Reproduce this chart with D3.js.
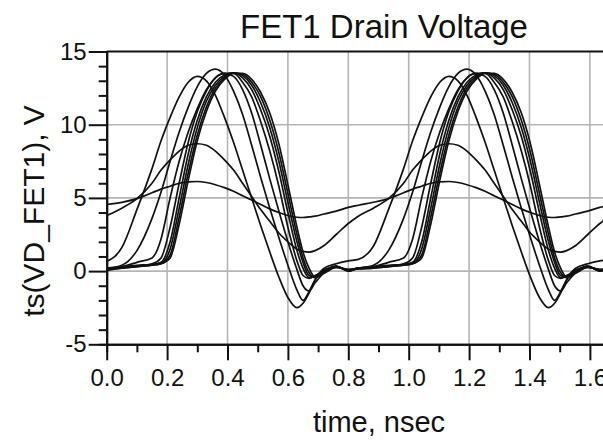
<!DOCTYPE html>
<html>
<head>
<meta charset="utf-8">
<script src="https://cdn.jsdelivr.net/npm/d3@7"></script>
<style>
  body { margin: 0; background: #fff; }
  svg { display: block; font-family: "Liberation Sans", Arial, sans-serif; }
</style>
</head>
<body>
<div class="svg-container"></div>
<script>
// time axis, nsec (two cycles, 1.2 GHz)
const time = [0, 0.05, 0.1, 0.15, 0.18, 0.21, 0.24, 0.27, 0.3, 0.33, 0.36, 0.39, 0.42, 0.45, 0.48, 0.51, 0.54, 0.57, 0.6, 0.63, 0.65, 0.67, 0.69, 0.72, 0.76, 0.8,
  0.833, 0.883, 0.933, 0.983, 1.013, 1.043, 1.073, 1.103, 1.133, 1.163, 1.193, 1.223, 1.253, 1.283, 1.313, 1.343, 1.373, 1.403, 1.433, 1.463, 1.483, 1.503, 1.523, 1.553, 1.593, 1.633,
  1.667, 1.717];

// drain voltage traces, V (one per swept drive level)
const vd1 = [4.55, 4.7, 4.95, 5.35, 5.6, 5.8, 6.0, 6.1, 6.12, 6.05, 5.9, 5.7, 5.45, 5.15, 4.85, 4.55, 4.25, 4.0, 3.8, 3.68, 3.66, 3.7, 3.75, 3.9, 4.1, 4.35,
  4.5, 4.7, 4.95, 5.35, 5.6, 5.8, 6.0, 6.1, 6.12, 6.05, 5.9, 5.7, 5.45, 5.15, 4.85, 4.55, 4.25, 4.0, 3.8, 3.68, 3.66, 3.7, 3.75, 3.9, 4.1, 4.35,
  4.5, 4.7];
const vd2 = [3.8, 4.3, 4.95, 6.0, 6.9, 7.6, 8.2, 8.6, 8.7, 8.6, 8.2, 7.6, 6.9, 6.0, 5.1, 4.2, 3.4, 2.6, 2.0, 1.5, 1.35, 1.3, 1.4, 1.75, 2.5, 3.25,
  3.75, 4.3, 4.95, 6.0, 6.9, 7.6, 8.2, 8.6, 8.7, 8.6, 8.2, 7.6, 6.9, 6.0, 5.1, 4.2, 3.4, 2.6, 2.0, 1.5, 1.35, 1.3, 1.4, 1.75, 2.5, 3.25,
  3.75, 4.3];
const vd3 = [0.65, 1.6, 4.2, 7.0, 8.9, 10.5, 11.9, 12.9, 13.3, 13.0, 12.0, 10.5, 8.8, 6.9, 5.0, 3.1, 1.3, -0.4, -1.8, -2.5, -2.2, -1.5, -0.6, 0.2, 0.5, 0.7,
  0.8, 1.7, 4.2, 7.0, 8.9, 10.5, 11.9, 12.9, 13.3, 13.0, 12.0, 10.5, 8.8, 6.9, 5.0, 3.1, 1.3, -0.4, -1.8, -2.5, -2.2, -1.5, -0.6, 0.2, 0.5, 0.7,
  0.8, 1.7];
const vd4 = [0.2, 0.4, 1.4, 3.6, 5.4, 7.5, 9.5, 11.2, 12.6, 13.5, 13.8, 13.4, 12.3, 10.7, 8.6, 6.4, 4.3, 2.3, 0.4, -1.3, -2.0, -1.4, -0.6, 0.1, 0.25, 0.1,
  0.2, 0.4, 1.4, 3.6, 5.4, 7.5, 9.5, 11.2, 12.6, 13.5, 13.8, 13.4, 12.3, 10.7, 8.6, 6.4, 4.3, 2.3, 0.4, -1.3, -2.0, -1.4, -0.6, 0.1, 0.25, 0.1,
  0.2, 0.4];
const vd5 = [0.15, 0.3, 0.6, 0.9, 2.2, 5.0, 7.5, 9.5, 11.1, 12.4, 13.2, 13.5, 13.3, 12.4, 10.8, 8.6, 6.3, 4.1, 2.0, 0.1, -1.0, -1.35, -0.8, -0.1, 0.3, 0.1,
  0.2, 0.3, 0.6, 0.9, 2.2, 5.0, 7.5, 9.5, 11.1, 12.4, 13.2, 13.5, 13.3, 12.4, 10.8, 8.6, 6.3, 4.1, 2.0, 0.1, -1.0, -1.35, -0.8, -0.1, 0.3, 0.1,
  0.2, 0.3];
const vd6 = [0.1, 0.25, 0.35, 0.5, 0.9, 3.0, 6.0, 8.8, 10.9, 12.3, 13.2, 13.5, 13.5, 12.9, 11.9, 10.2, 8.2, 5.8, 3.0, 0.7, -0.3, -0.5, -0.3, 0.05, 0.35, 0.0,
  0.2, 0.25, 0.35, 0.5, 0.9, 3.0, 6.0, 8.8, 10.9, 12.3, 13.2, 13.5, 13.5, 12.9, 11.9, 10.2, 8.2, 5.8, 3.0, 0.7, -0.3, -0.5, -0.3, 0.05, 0.35, 0.0,
  0.2, 0.25];
const vd7 = [0.1, 0.25, 0.35, 0.45, 0.6, 2.0, 5.0, 8.0, 10.3, 11.9, 12.9, 13.4, 13.55, 13.2, 12.4, 11.0, 9.2, 6.8, 4.0, 1.4, 0.2, -0.45, -0.35, 0.0, 0.35, 0.0,
  0.2, 0.25, 0.35, 0.45, 0.6, 2.0, 5.0, 8.0, 10.3, 11.9, 12.9, 13.4, 13.55, 13.2, 12.4, 11.0, 9.2, 6.8, 4.0, 1.4, 0.2, -0.45, -0.35, 0.0, 0.35, 0.0,
  0.2, 0.25];
const vd8 = [0.15, 0.3, 0.4, 0.45, 0.55, 1.5, 4.3, 7.3, 9.8, 11.6, 12.7, 13.3, 13.55, 13.35, 12.7, 11.5, 9.8, 7.5, 4.7, 2.0, 0.6, -0.3, -0.4, -0.05, 0.3, 0.05,
  0.2, 0.3, 0.4, 0.45, 0.55, 1.5, 4.3, 7.3, 9.8, 11.6, 12.7, 13.3, 13.55, 13.35, 12.7, 11.5, 9.8, 7.5, 4.7, 2.0, 0.6, -0.3, -0.4, -0.05, 0.3, 0.05,
  0.2, 0.3];
const vd9 = [0.1, 0.2, 0.3, 0.4, 0.5, 1.1, 3.7, 6.7, 9.3, 11.2, 12.5, 13.2, 13.55, 13.45, 12.9, 11.9, 10.3, 8.1, 5.3, 2.5, 0.9, -0.1, -0.45, -0.1, 0.3, 0.05,
  0.15, 0.2, 0.3, 0.4, 0.5, 1.1, 3.7, 6.7, 9.3, 11.2, 12.5, 13.2, 13.55, 13.45, 12.9, 11.9, 10.3, 8.1, 5.3, 2.5, 0.9, -0.1, -0.45, -0.1, 0.3, 0.05,
  0.15, 0.2];
const vd10 = [0.05, 0.2, 0.3, 0.4, 0.5, 0.9, 3.2, 6.2, 8.9, 10.9, 12.3, 13.1, 13.5, 13.5, 13.1, 12.2, 10.8, 8.7, 5.9, 3.0, 1.3, 0.2, -0.4, -0.15, 0.25, 0.1,
  0.15, 0.2, 0.3, 0.4, 0.5, 0.9, 3.2, 6.2, 8.9, 10.9, 12.3, 13.1, 13.5, 13.5, 13.1, 12.2, 10.8, 8.7, 5.9, 3.0, 1.3, 0.2, -0.4, -0.15, 0.25, 0.1,
  0.15, 0.2];
const traces = [vd1, vd2, vd3, vd4, vd5, vd6, vd7, vd8, vd9, vd10];

const xTicks = [0, 0.2, 0.4, 0.6, 0.8, 1.0, 1.2, 1.4, 1.6];
const xMinor = [0.1, 0.3, 0.5, 0.7, 0.9, 1.1, 1.3, 1.5, 1.7];
const yTicks = [-5, 0, 5, 10, 15];
const yMinor = [-4, -3, -2, -1, 1, 2, 3, 4, 6, 7, 8, 9, 11, 12, 13, 14];

const width = 603, height = 443;

const svg = d3.select('.svg-container')
    .append('svg')
    .attr('width', width)
    .attr('height', height);

const x = d3.scaleLinear().domain([0, 1.7]).range([106.7, 106.7 + 1.7 * 302]);
const y = d3.scaleLinear().domain([-5, 15]).range([344.3, 51.5]);

// grid
svg.append('g')
  .selectAll('line.vgrid')
  .data(xTicks.slice(1))
  .enter().append('line')
    .attr('x1', d => x(d)).attr('x2', d => x(d))
    .attr('y1', y(15)).attr('y2', y(-5))
    .attr('stroke', '#b4b4b4').attr('stroke-width', 1.6);

svg.append('g')
  .selectAll('line.hgrid')
  .data([0, 5, 10])
  .enter().append('line')
    .attr('x1', x(0)).attr('x2', x(1.7))
    .attr('y1', d => y(d)).attr('y2', d => y(d))
    .attr('stroke', '#b4b4b4').attr('stroke-width', 1.6);

// traces
svg.append('clipPath').attr('id', 'plot-clip')
  .append('rect')
    .attr('x', x(0)).attr('y', y(15))
    .attr('width', x(1.7) - x(0)).attr('height', y(-5) - y(15));

const line = d3.line()
  .x((d, i) => x(time[i]))
  .y(d => y(d))
  .curve(d3.curveMonotoneX);

svg.append('g')
    .attr('clip-path', 'url(#plot-clip)')
  .selectAll('path')
  .data(traces)
  .enter().append('path')
    .attr('d', line)
    .attr('fill', 'none')
    .attr('stroke', '#111')
    .attr('stroke-width', 1.7);

// top border
svg.append('line')
  .attr('x1', x(0)).attr('x2', x(1.7))
  .attr('y1', y(15)).attr('y2', y(15))
  .attr('stroke', '#111').attr('stroke-width', 2);

// axes
function styleAxis(g) {
  g.select('.domain').attr('stroke', '#111').attr('stroke-width', 2);
  g.selectAll('.tick line').attr('stroke', '#111').attr('stroke-width', 2);
  g.selectAll('.tick text').attr('fill', '#111').style('font-size', '24px');
}

svg.append('g')
    .attr('transform', `translate(0,${y(-5)})`)
    .call(d3.axisBottom(x).tickValues(xMinor).tickSize(8).tickFormat(''))
    .call(styleAxis);

svg.append('g')
    .attr('transform', `translate(0,${y(-5)})`)
    .call(d3.axisBottom(x).tickValues(xTicks).tickSize(16).tickSizeOuter(0)
      .tickPadding(9).tickFormat(d3.format('.1f')))
    .call(styleAxis);

svg.append('g')
    .attr('transform', `translate(${x(0)},0)`)
    .call(d3.axisLeft(y).tickValues(yMinor).tickSize(8).tickFormat(''))
    .call(styleAxis);

svg.append('g')
    .attr('transform', `translate(${x(0)},0)`)
    .call(d3.axisLeft(y).tickValues(yTicks).tickSize(18).tickSizeOuter(0)
      .tickPadding(2).tickFormat(d => String(d)))
    .call(styleAxis);

// titles
svg.append('text')
  .attr('x', 384).attr('y', 38)
  .attr('text-anchor', 'middle')
  .style('font-size', '33px')
  .attr('fill', '#111')
  .text('FET1 Drain Voltage');

svg.append('text')
  .attr('x', 379).attr('y', 432)
  .attr('text-anchor', 'middle')
  .style('font-size', '29px')
  .attr('fill', '#111')
  .text('time, nsec');

svg.append('text')
  .attr('transform', 'translate(44,211) rotate(-90)')
  .attr('text-anchor', 'middle')
  .style('font-size', '30px')
  .attr('fill', '#111')
  .text('ts(VD_FET1), V');
</script>
</body>
</html>
